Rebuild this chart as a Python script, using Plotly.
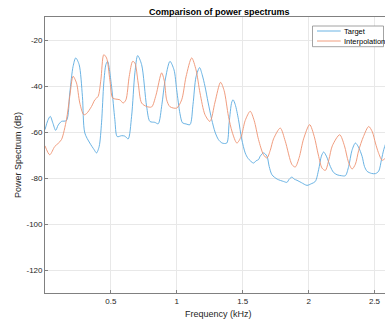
import plotly.graph_objects as go

# ---- data ----
target_freq = [0.0, 0.021, 0.040, 0.059, 0.081, 0.100, 0.125, 0.163, 0.188, 0.213, 0.233, 0.259,
               0.284, 0.302, 0.340, 0.373, 0.391, 0.411, 0.429, 0.446, 0.462, 0.475, 0.505, 0.530,
               0.548, 0.581, 0.606, 0.631, 0.657, 0.682, 0.703, 0.733, 0.771, 0.796, 0.833, 0.859,
               0.887, 0.910, 0.948, 0.979, 0.999, 1.024, 1.043, 1.070, 1.100, 1.123, 1.146, 1.173,
               1.192, 1.214, 1.237, 1.265, 1.290, 1.316, 1.344, 1.379, 1.397, 1.417, 1.427, 1.443,
               1.468, 1.492, 1.519, 1.541, 1.582, 1.602, 1.620, 1.633, 1.658, 1.684, 1.701, 1.722,
               1.762, 1.810, 1.836, 1.853, 1.874, 1.891, 1.912, 1.945, 1.988, 2.020, 2.051, 2.076,
               2.097, 2.114, 2.135, 2.165, 2.188, 2.216, 2.249, 2.279, 2.304, 2.329, 2.355, 2.378,
               2.406, 2.424, 2.444, 2.477, 2.507, 2.532, 2.553, 2.570, 2.591]
target_db = [-59, -55, -53.2, -56, -59.3, -57, -55.4, -55, -43, -31.5, -27.8, -30.7,
             -44.5, -60.4, -64.8, -67.7, -69.1, -66.3, -56, -38.7, -30.7, -29.3, -40.2, -54.6,
             -62, -61.6, -61.8, -63, -53.2, -34.3, -26.8, -30.7, -48.9, -55.4, -55.8, -56.4,
             -48, -38, -29.3, -33, -41.6, -52, -56, -56.5, -56.8, -48, -36, -32,
             -35, -40.2, -47, -54.6, -60, -63.3, -64.8, -64.8, -56, -47, -46, -48,
             -54.6, -63, -69.1, -71.5, -73.5, -72.5, -72, -70.5, -69.1, -70.5, -75, -78.6,
             -80.5, -81.5, -81.9, -80.5, -79.6, -80.5, -81, -82, -83.2, -82.5, -81.5, -76.4,
             -70.5, -68.7, -70.5, -75, -77.5, -78.6, -79, -79, -75, -68, -64.8, -66.5,
             -70.6, -75, -77.1, -78, -78.1, -77, -72, -67.7, -64]

interp_freq = [0.0, 0.036, 0.074, 0.099, 0.125, 0.163, 0.188, 0.213, 0.239, 0.264, 0.294, 0.315,
               0.353, 0.378, 0.403, 0.424, 0.446, 0.467, 0.492, 0.513, 0.538, 0.568, 0.593, 0.614,
               0.639, 0.665, 0.682, 0.707, 0.733, 0.771, 0.809, 0.842, 0.885, 0.906, 0.923, 0.948,
               0.999, 1.037, 1.070, 1.113, 1.146, 1.176, 1.214, 1.252, 1.290, 1.332, 1.359, 1.392,
               1.420, 1.456, 1.488, 1.519, 1.557, 1.587, 1.620, 1.658, 1.684, 1.709, 1.734, 1.785,
               1.823, 1.874, 1.899, 1.929, 1.962, 2.008, 2.043, 2.074, 2.102, 2.127, 2.154, 2.180,
               2.236, 2.272, 2.302, 2.330, 2.355, 2.380, 2.416, 2.456, 2.484, 2.507, 2.530, 2.558,
               2.583, 2.598]
interp_db = [-66, -69.9, -66.3, -65, -63.3, -54.6, -44.5, -35.8, -38.7, -47.4, -52.5, -52,
             -48.9, -46, -44.5, -37.3, -26.4, -27.8, -37.3, -45.2, -45.7, -46, -47.4, -46,
             -35.8, -29.3, -30, -38.7, -47.4, -48.9, -49.1, -44, -34.3, -38, -46, -49,
             -49.6, -46, -36, -27.8, -33, -43, -52.5, -55.4, -47, -38.4, -42, -53.2,
             -60, -64.8, -62, -55, -51, -55, -63.3, -69.9, -71.3, -68, -63, -58.3,
             -64, -74.2, -75.2, -71, -63, -56.8, -62, -70, -75.7, -76.7, -72, -66,
             -61.2, -66, -73, -76.1, -74, -68, -62, -57.6, -60, -64.8, -69, -72.3,
             -71.3, -70]

x_ticks = [0.5, 1, 1.5, 2, 2.5]
y_ticks = [-120, -100, -80, -60, -40, -20]
series_names = ["Target", "Interpolation"]

BLUE = "#5aaae0"
ORANGE = "#ee9270"
FONT = "Liberation Sans, Arial, Helvetica, sans-serif"
TXT = "#262626"

fig = go.Figure()
fig.add_trace(go.Scatter(x=target_freq, y=target_db, mode="lines", name=series_names[0],
                         line=dict(color=BLUE, width=0.9, shape="spline", smoothing=0.8)))
fig.add_trace(go.Scatter(x=interp_freq, y=interp_db, mode="lines", name=series_names[1],
                         line=dict(color=ORANGE, width=0.9, shape="spline", smoothing=0.8)))

L, T, B, W, H = 45, 17, 30, 385, 323
PW = W - L
PH = H - T - B


def px(xp):
    return (xp - L) / PW


def py(yp):
    return (H - B - yp) / PH


# manual legend (MATLAB style)
fig.add_shape(type="rect", xref="paper", yref="paper", x0=px(312.5), x1=px(383.5),
              y0=py(46.7), y1=py(26), line=dict(color="#8c8c8c", width=0.8),
              fillcolor="white", layer="above")
for nm, col, yy in [(series_names[0], BLUE, 31), (series_names[1], ORANGE, 41)]:
    fig.add_shape(type="line", xref="paper", yref="paper", x0=px(317), x1=px(340.7),
                  y0=py(yy), y1=py(yy), line=dict(color=col, width=0.9), layer="above")
    fig.add_annotation(text=nm, xref="paper", yref="paper", x=px(342.3), y=py(yy),
                       xanchor="left", yanchor="middle", showarrow=False,
                       font=dict(family=FONT, size=7.5, color="#000000"))

# title and axis titles
fig.add_annotation(text="<b>Comparison of power spectrums</b>", xref="paper", yref="paper",
                   x=px(219.5), y=py(11.5), xanchor="center", yanchor="middle", showarrow=False,
                   font=dict(family=FONT, size=9, color="#000000"))
fig.add_annotation(text="Frequency (kHz)", xref="paper", yref="paper",
                   x=px(218), y=py(314), xanchor="center", yanchor="middle", showarrow=False,
                   font=dict(family=FONT, size=9, color=TXT))
fig.add_annotation(text="Power Spectrum (dB)", xref="paper", yref="paper",
                   x=px(18), y=py(155), xanchor="center", yanchor="middle", showarrow=False,
                   textangle=-90, font=dict(family=FONT, size=9, color=TXT))

fig.update_layout(
    width=W, height=H,
    margin=dict(l=L, r=0, t=T, b=B),
    paper_bgcolor="white", plot_bgcolor="white",
    showlegend=False,
    font=dict(family=FONT, size=8, color=TXT),
)
fig.update_xaxes(range=[0, PW / 131.8], tickvals=x_ticks, ticktext=[str(v) for v in x_ticks],
                 showgrid=True, gridcolor="#e8e8e8", gridwidth=0.8,
                 showline=True, linecolor="#808080", linewidth=0.8, mirror=True,
                 ticks="inside", ticklen=3, tickcolor="#808080",
                 tickfont=dict(family=FONT, size=8, color=TXT), zeroline=False)
fig.update_yaxes(range=[-130, -10], tickvals=y_ticks, ticktext=[str(v) for v in y_ticks],
                 showgrid=True, gridcolor="#e8e8e8", gridwidth=0.8,
                 showline=True, linecolor="#808080", linewidth=0.8,
                 ticks="inside", ticklen=3, tickcolor="#808080",
                 tickfont=dict(family=FONT, size=8, color=TXT), zeroline=False)

fig.write_html("out.html", config={"displayModeBar": False},
               post_script="document.body.style.margin='0';document.body.style.overflow='hidden';")
